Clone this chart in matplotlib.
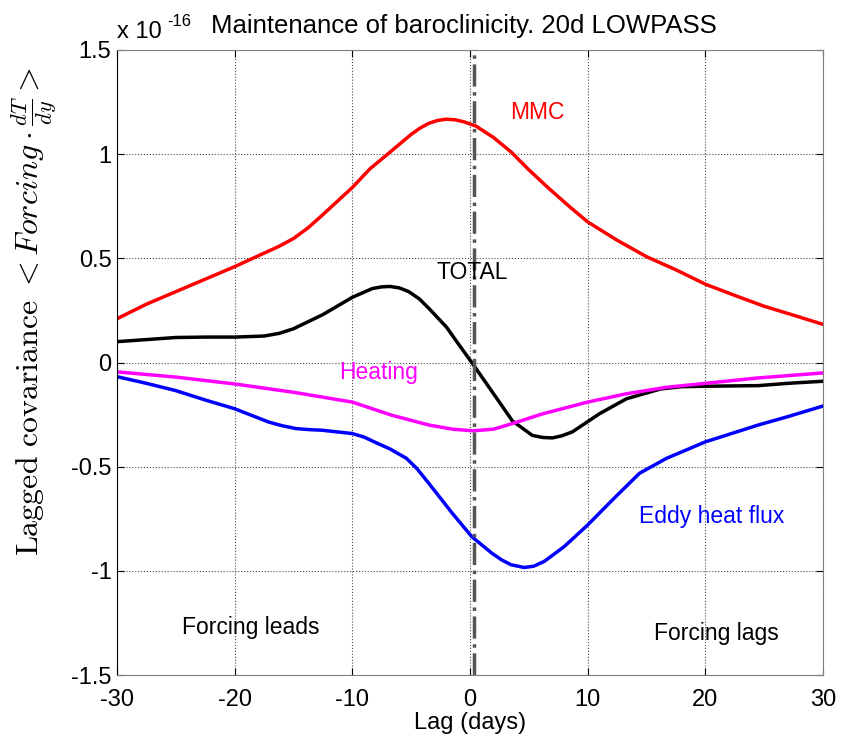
import numpy as np
import matplotlib
matplotlib.use('Agg')
import matplotlib.pyplot as plt

plt.rcParams['font.family'] = ['Liberation Sans', 'DejaVu Sans']
plt.rcParams['mathtext.fontset'] = 'cm'

# Date (unitati de 1e-16)
lag_mmc = [-30, -27.5, -25, -22.5, -20, -17.5, -16.25, -15, -13.75, -12.5, -10, -8.5, -7, -5, -4.25, -3.5,
           -2.75, -2, -1.25, -0.5, 0.5, 2, 3.5, 5, 6.75, 8.5, 10, 12.5, 15, 17.5, 20, 22.5, 25, 27.5, 30]
mmc = [0.21, 0.28, 0.34, 0.40, 0.46, 0.525, 0.557, 0.595, 0.647, 0.71, 0.84, 0.93, 1.0, 1.095, 1.125,
       1.148, 1.162, 1.168, 1.165, 1.155, 1.135, 1.08, 1.01, 0.925, 0.833, 0.746, 0.675, 0.587, 0.508,
       0.445, 0.376, 0.322, 0.27, 0.227, 0.183]

lag_total = [-30, -27.5, -25, -22.5, -20, -17.5, -16.2, -15, -12.5, -10, -8.3, -7.5, -6.8, -6, -5.2,
             -4.3, -3.5, -2, -1, 0.25, 2, 3.6, 5.3, 6.2, 7, 7.8, 8.7, 11, 13.3, 16.2, 18, 20, 24.5, 27, 30]
total = [0.10, 0.11, 0.12, 0.122, 0.122, 0.127, 0.14, 0.162, 0.23, 0.313, 0.355, 0.363, 0.365, 0.358,
         0.34, 0.305, 0.26, 0.17, 0.09, -0.008, -0.15, -0.28, -0.35, -0.36, -0.362, -0.352, -0.333,
         -0.246, -0.174, -0.127, -0.116, -0.114, -0.111, -0.10, -0.09]

lag_heat = [-30, -25, -20, -15, -10, -6.6, -3.5, -1.5, 0.25, 2, 3.6, 6.2, 10, 13.3, 16.7, 20, 24.5, 30]
heating = [-0.045, -0.07, -0.103, -0.143, -0.19, -0.254, -0.30, -0.32, -0.328, -0.32, -0.293, -0.246,
           -0.19, -0.15, -0.119, -0.10, -0.074, -0.05]

lag_eddy = [-30, -27.5, -25, -22.5, -20, -17.1, -16, -14.8, -13.7, -12.6, -10, -9, -8.1, -6.8, -5.4,
            -4.5, -3.5, -1.5, 0.15, 1.85, 2.7, 3.5, 4.6, 5.4, 6.3, 8, 10, 12.1, 14.4, 16.7, 20, 24.5, 27, 30]
eddy = [-0.068, -0.10, -0.135, -0.18, -0.222, -0.286, -0.303, -0.317, -0.322, -0.325, -0.341, -0.358,
        -0.382, -0.415, -0.46, -0.51, -0.58, -0.724, -0.836, -0.915, -0.948, -0.971, -0.984, -0.978,
        -0.955, -0.884, -0.78, -0.66, -0.532, -0.46, -0.381, -0.30, -0.26, -0.209]

fig = plt.figure(figsize=(8.44, 7.35), dpi=100)
ax = fig.add_axes([117 / 844, 1 - 675 / 735, 706 / 844, 625 / 735])

ax.plot(lag_mmc, mmc, color='#ff0000', lw=2.5)
ax.plot(lag_total, total, color='black', lw=2.5)
ax.plot(lag_heat, heating, color='#ff00ff', lw=2.5)
ax.plot(lag_eddy, eddy, color='#0000ff', lw=2.5)
ax.axvline(0.35, color='#555555', lw=2.5, linestyle='-.')

ax.set_xlim(-30, 30)
ax.set_ylim(-1.5, 1.5)
ax.set_xticks(np.arange(-30, 31, 10))
ax.set_yticks([-1.5, -1, -0.5, 0, 0.5, 1, 1.5])
ax.set_yticklabels(['-1.5', '-1', '-0.5', '0', '0.5', '1', '1.5'])
ax.set_xticklabels(['-30', '-20', '-10', '0', '10', '20', '30'])
ax.tick_params(direction='in', length=5, labelsize=17, top=True, right=True)
ax.tick_params(axis='x', pad=10)
ax.tick_params(axis='y', pad=4)
ax.grid(True, linestyle=':', color='black', lw=0.8, alpha=0.7)
for s in ['top', 'right', 'bottom']:
    ax.spines[s].set_color('#808080')

ax.text(5.75, 1.2, 'MMC', color='#ff0000', fontsize=16.5, ha='center', va='center')
ax.text(0.17, 0.43, 'TOTAL', color='black', fontsize=16.5, ha='center', va='center')
ax.text(-7.8, -0.047, 'Heating', color='#ff00ff', fontsize=16.5, ha='center', va='center')
ax.text(20.5, -0.74, 'Eddy heat flux', color='#0000ff', fontsize=16.5, ha='center', va='center')
ax.text(-18.6, -1.27, 'Forcing leads', color='black', fontsize=16.5, ha='center', va='center')
ax.text(20.9, -1.3, 'Forcing lags', color='black', fontsize=16.5, ha='center', va='center')

ax.text(0.0, 1.012, 'x 10', transform=ax.transAxes, fontsize=17, ha='left', va='bottom')
ax.text(0.071, 1.034, '-16', transform=ax.transAxes, fontsize=12, ha='left', va='bottom')
ax.set_title('Maintenance of baroclinicity. 20d LOWPASS', fontsize=18.5, pad=12, x=0.492)
ax.set_xlabel('Lag (days)', fontsize=17, labelpad=1)
ax.set_ylabel(r'$\mathrm{Lagged\ covariance}\ < Forcing \cdot \frac{dT}{dy} >$', fontsize=23)
ax.yaxis.set_label_coords(-0.082, 0.582)

fig.savefig('out.png', dpi=100)
